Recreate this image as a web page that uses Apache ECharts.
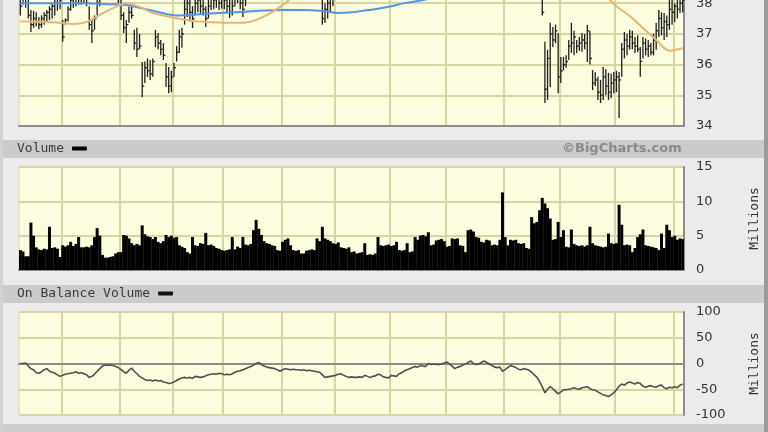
<!DOCTYPE html>
<html>
<head>
<meta charset="utf-8">
<script src="https://cdn.jsdelivr.net/npm/echarts@6/dist/echarts.min.js"></script>
<style>
html,body{margin:0;padding:0;background:#ebebeb;}
#c{width:768px;height:432px;}
</style>
</head>
<body>
<div id="c"></div>
<script>
// ---- data ----
const monthNames = ['M0','M1','M2','M3','M4','M5','M6','M7','M8','M9','M10','M11','M12'];
const monthDays = [16,22,20,19,22,20,21,21,22,21,21,22,4];

const high = [
38.5,38.6,38.5,38.2,37.78,37.75,37.7,37.55,37.6,37.7,
37.78,37.9,38.0,38.2,38.3,38.4,37.45,37.5,37.9,38.3,
38.4,38.5,38.6,38.5,38.7,38.6,37.9,37.45,37.6,38.2,
38.5,38.8,38.9,38.9,38.7,38.8,38.7,38.5,38.1,37.7,
37.45,37.88,38.0,37.13,37.2,37.0,36.08,36.1,36.2,36.15,
36.2,37.13,37.03,36.8,36.7,36.05,35.92,35.8,36.05,36.6,
37.13,37.2,38.1,38.3,38.1,37.9,38.3,38.4,38.3,38.2,
37.9,38.1,38.4,38.5,38.5,38.4,38.45,38.5,38.3,38.2,
38.1,38.5,38.6,38.4,38.2,38.4,38.7,38.9,39.1,39.3,
39.4,39.3,39.2,39.1,39.0,38.9,38.9,38.8,38.7,38.9,
39.0,39.1,39.0,38.9,38.9,38.8,38.8,38.9,38.8,38.8,
38.7,38.7,38.6,38.5,38.2,38.0,38.3,38.4,38.5,38.7,
38.8,38.9,38.8,38.7,38.7,38.8,38.9,38.9,38.8,38.9,
39.0,39.0,38.9,39.0,39.1,39.2,39.1,39.0,38.9,38.9,
39.1,39.2,39.1,39.3,39.4,39.6,39.7,39.8,39.9,40.1,
40.0,40.2,40.1,40.0,40.3,40.2,40.3,40.2,40.2,40.3,
40.4,40.5,40.3,40.0,39.8,40.0,40.1,40.3,40.4,40.6,
40.7,40.5,40.2,40.3,40.5,40.7,40.5,40.2,39.9,39.7,
39.6,39.7,39.4,39.3,39.6,39.8,39.7,39.5,39.3,39.1,
39.3,39.2,39.0,38.9,38.8,38.7,38.8,38.8,36.74,36.48,
37.36,37.22,37.3,37.03,36.25,36.25,36.3,36.8,37.36,37.1,
36.8,36.9,37.03,37.0,37.29,37.1,35.82,35.75,35.6,35.5,
35.92,35.85,35.73,35.7,35.76,35.8,35.76,36.7,37.06,37.0,
37.13,37.1,36.9,36.95,36.57,36.9,36.85,36.8,36.7,37.0,
37.36,37.78,37.7,37.68,37.6,38.1,38.2,38.0,38.1,38.2,
38.3];

const low = [
37.6,37.95,37.85,37.5,37.06,37.2,37.25,37.15,37.2,37.3,
37.35,37.45,37.5,37.6,37.75,37.8,36.74,37.3,37.4,37.75,
37.85,37.9,37.95,37.95,38.0,37.9,37.13,36.7,37.13,37.6,
37.9,38.1,38.3,38.2,38.1,38.2,38.1,38.0,37.45,37.03,
36.7,37.36,37.5,36.48,36.25,36.5,34.94,35.4,35.6,35.5,
35.6,36.57,36.5,36.3,36.15,35.27,35.07,35.1,35.6,36.1,
36.38,36.55,37.3,37.55,37.4,37.19,37.62,37.7,37.65,37.6,
37.22,37.5,37.78,37.8,37.85,37.78,37.82,37.8,37.7,37.52,
37.6,37.9,38.0,37.8,37.55,37.9,38.2,38.3,38.4,38.6,
38.8,38.7,38.6,38.5,38.4,38.4,38.3,38.3,38.2,38.3,
38.4,38.5,38.5,38.4,38.4,38.3,38.3,38.4,38.3,38.3,
38.25,38.2,38.2,38.15,37.3,37.36,37.5,37.7,37.9,38.25,
38.3,38.4,38.3,38.3,38.25,38.3,38.4,38.4,38.35,38.4,
38.5,38.5,38.4,38.5,38.6,38.7,38.6,38.5,38.4,38.4,
38.5,38.7,38.6,38.7,38.9,39.0,39.1,39.2,39.3,39.4,
39.3,39.5,39.5,39.4,39.6,39.6,39.7,39.6,39.6,39.7,
39.8,39.9,39.7,39.4,39.1,39.3,39.5,39.6,39.8,40.0,
40.1,39.8,39.6,39.7,39.9,40.1,39.9,39.6,39.3,39.1,
39.0,39.1,38.6,38.7,38.9,39.2,39.1,38.9,38.7,38.6,
38.7,38.7,38.5,38.3,38.3,38.25,38.3,37.6,34.75,34.85,
35.27,36.57,36.7,35.07,35.4,35.82,35.9,36.15,36.38,36.3,
36.38,36.45,36.42,36.5,36.08,36.0,35.17,35.3,34.85,34.75,
34.85,35.0,34.85,34.9,35.07,35.1,34.26,35.6,36.2,36.3,
36.48,36.5,36.38,36.4,35.6,36.2,36.3,36.25,36.3,36.3,
36.48,36.9,36.95,36.8,36.9,37.13,37.3,37.39,37.5,37.68,
37.7];

const close = [
37.9,38.3,38.0,37.6,37.3,37.5,37.4,37.3,37.5,37.6,
37.7,37.8,37.9,38.0,38.2,38.1,36.9,37.45,37.8,38.1,
38.2,38.3,38.4,38.2,38.5,38.0,37.3,37.1,37.5,38.0,
38.3,38.6,38.7,38.4,38.5,38.6,38.3,38.2,37.6,37.2,
37.3,37.7,37.6,36.7,36.5,36.6,35.3,35.9,35.8,35.7,
36.1,36.9,36.7,36.5,36.3,35.6,35.3,35.6,35.9,36.4,
36.9,37.0,37.8,38.0,37.7,37.5,38.0,38.1,37.9,37.8,
37.5,37.9,38.2,38.1,38.3,38.0,38.2,38.1,37.9,37.7,
37.9,38.2,38.4,38.0,37.8,38.2,38.5,38.7,38.9,39.1,
39.2,39.0,38.9,38.8,38.7,38.6,38.5,38.5,38.4,38.7,
38.8,38.9,38.7,38.6,38.7,38.6,38.5,38.7,38.5,38.6,
38.5,38.4,38.4,38.3,37.5,37.8,38.0,38.2,38.3,38.5,
38.6,38.7,38.5,38.5,38.4,38.6,38.7,38.6,38.6,38.7,
38.8,38.7,38.6,38.8,38.9,39.0,38.8,38.7,38.6,38.6,
38.9,39.0,38.8,39.1,39.2,39.4,39.5,39.6,39.7,39.9,
39.6,40.0,39.8,39.6,40.1,39.9,40.0,39.9,39.9,40.0,
40.2,40.3,39.9,39.6,39.3,39.7,39.8,40.1,40.2,40.4,
40.5,40.0,39.8,40.0,40.3,40.5,40.1,39.8,39.5,39.3,
39.2,39.4,38.8,39.0,39.3,39.6,39.4,39.2,38.9,38.8,
39.0,38.9,38.7,38.5,38.4,38.4,38.5,37.7,35.2,36.2,
37.0,36.8,37.1,35.6,35.8,36.0,36.1,36.6,36.7,36.9,
36.6,36.7,36.8,36.7,37.1,36.2,35.4,35.5,35.1,35.0,
35.6,35.3,35.1,35.4,35.5,35.6,35.5,36.5,36.8,36.6,
36.9,36.7,36.6,36.5,36.1,36.7,36.5,36.6,36.4,36.8,
37.1,37.5,37.2,37.4,37.3,37.8,37.7,37.9,37.8,38.0,
38.1];

const volume = [
2.9,2.7,2.0,2.0,6.9,5.0,3.3,3.0,2.9,3.1,
3.0,6.3,3.2,3.3,3.1,1.9,3.6,3.4,3.6,4.1,
3.5,3.8,4.8,3.3,3.3,3.4,3.3,3.6,4.8,6.1,
5.0,2.2,1.8,1.8,1.9,2.0,2.4,2.6,2.6,5.1,
5.0,4.6,3.9,3.6,3.8,3.6,6.5,5.2,4.9,4.8,
4.5,4.8,4.1,3.9,4.2,5.1,4.8,5.0,4.7,4.8,
3.6,3.4,3.2,2.6,2.4,4.8,3.6,3.5,3.9,3.8,
5.4,3.6,3.7,3.5,3.2,3.1,2.9,2.8,2.9,3.0,
4.8,3.0,3.4,3.2,4.8,3.7,3.6,3.8,5.8,7.3,
6.0,5.1,4.2,3.9,3.8,3.6,3.5,2.9,2.8,4.1,
4.4,4.6,3.6,2.9,2.8,2.9,2.4,2.4,2.8,2.9,
3.0,2.9,4.6,4.2,6.3,4.6,4.4,4.2,3.9,3.8,
4.0,3.3,3.2,3.1,3.3,2.6,2.7,2.4,2.5,2.6,
3.9,2.2,2.3,2.2,2.4,4.8,3.6,3.5,3.6,3.7,
3.5,3.6,4.1,2.9,2.8,2.9,3.9,2.6,2.7,4.8,
4.4,5.0,5.1,4.9,5.5,3.6,3.7,4.3,4.4,4.5,
4.2,3.4,3.5,4.6,4.5,4.6,3.6,3.5,2.6,5.8,
5.9,5.6,4.8,4.7,4.1,4.0,4.4,4.3,3.6,3.7,
3.6,4.4,11.3,4.8,3.6,4.4,4.3,4.4,3.9,3.8,
3.9,3.2,3.1,7.7,6.8,7.0,8.7,10.5,9.7,9.0,
7.5,4.4,4.5,7.0,4.8,5.8,3.4,3.3,5.9,3.8,
3.6,3.5,3.6,3.4,3.6,6.3,3.9,3.6,3.5,3.4,
3.3,3.4,5.3,3.9,3.8,3.9,9.5,6.6,3.6,3.7,
3.6,2.6,3.2,4.8,5.2,5.9,3.6,3.5,3.4,3.3,
3.2,2.9,5.3,3.2,6.6,5.8,4.8,5.0,4.4,4.6,
4.5];

const obv = [
0,0,1,-5,-10,-12,-18,-19,-16,-12,
-10,-15,-17,-19,-22,-25,-23,-21,-20,-19,
-18,-16,-19,-18,-20,-22,-27,-25,-21,-15,
-10,-5,-3,-4,-3,-4,-6,-8,-12,-16,
-19,-13,-9,-15,-20,-25,-28,-31,-33,-32,
-34,-32,-34,-33,-36,-37,-39,-38,-36,-33,
-30,-28,-27,-28,-27,-29,-25,-26,-27,-26,
-24,-22,-21,-20,-21,-19,-20,-22,-21,-22,
-20,-17,-15,-14,-12,-10,-8,-6,-3,0,
2,-2,-5,-7,-8,-9,-10,-12,-15,-12,
-10,-11,-12,-11,-12,-12,-13,-12,-14,-13,
-14,-15,-16,-17,-22,-27,-26,-25,-24,-23,
-21,-20,-23,-25,-27,-26,-27,-27,-26,-27,
-23,-25,-27,-25,-24,-21,-22,-26,-27,-28,
-23,-24,-25,-20,-18,-14,-12,-10,-8,-6,
-7,-4,-5,-6,0,-2,-1,-2,-2,-1,
1,3,-1,-5,-10,-7,-6,-3,-1,2,
5,0,-2,-1,2,5,2,-1,-4,-7,
-8,-7,-15,-12,-8,-4,-6,-8,-11,-12,
-10,-11,-13,-17,-22,-27,-35,-45,-57,-50,
-45,-49,-54,-59,-55,-51,-51,-50,-49,-47,
-49,-50,-47,-46,-45,-49,-51,-52,-55,-58,
-61,-62,-64,-61,-57,-51,-44,-40,-42,-38,
-36,-38,-40,-37,-39,-44,-46,-44,-43,-45,
-46,-43,-42,-47,-49,-46,-47,-45,-47,-42,
-40];

const maDays = [0,5,10,15,20,25,30,35,40,45,50,55,60,65,70,75,80,85,90,95,100,105,110,115,120,125,130,135,140,145,150,155,160,165,170,175,180,185,190,195,200,205,210,215,220,225,230,235,240,245,250];
const maBlue = [38.0,38.0,38.0,38.0,38.0,37.99,37.98,37.96,37.94,37.85,37.75,37.65,37.6,37.62,37.66,37.68,37.7,37.72,37.75,37.77,37.78,37.78,37.77,37.74,37.68,37.7,37.76,37.82,37.9,38.0,38.07,38.16,38.3,38.45,38.6,38.75,38.9,39.0,39.1,39.15,39.15,39.1,39.0,38.9,38.8,38.7,38.6,38.5,38.45,38.4,38.35];
const maOrange = [37.4,37.4,37.39,37.36,37.32,37.39,37.62,37.84,38.0,37.88,37.68,37.58,37.49,37.42,37.39,37.37,37.36,37.37,37.49,37.71,38.0,38.4,38.6,38.65,38.6,38.6,38.65,38.8,38.85,39.0,39.3,39.6,39.85,39.9,40.0,40.1,40.0,39.7,39.4,39.1,38.9,38.7,38.5,38.4,38.3,37.9,37.58,37.19,36.8,36.45,36.54];

const priceTicks = {min:34, max:41, step:1};
const volTicks = {min:0, max:15, step:5};
const obvTicks = {min:-100, max:100, step:50};

// ---- build ----
const days = [];
const monthStarts = new Set();
let cum = 0;
monthDays.forEach((n, m) => {
  if (m > 0) monthStarts.add(cum);
  for (let d = 0; d < n; d++) days.push(monthNames[m] + '-' + (d + 1));
  cum += n;
});

const gridColor = '#d9d5a2';
const plotBg = '#fcfcdf';
const axisGray = '#8c8c8c';
const labelFont = {fontFamily: 'DejaVu Sans', fontSize: 13, color: '#333'};

function xAxisFor(g) {
  return {
    type: 'category', gridIndex: g, data: days, boundaryGap: true,
    axisLabel: {show: false}, axisTick: {show: false},
    axisLine: {show: true, lineStyle: {color: axisGray, width: 2}},
    splitLine: {show: true, interval: (i) => monthStarts.has(i), lineStyle: {color: gridColor, width: 2}}
  };
}
function yAxisFor(g, t, name) {
  const a = {
    type: 'value', gridIndex: g, position: 'right', min: t.min, max: t.max, interval: t.step,
    axisLabel: Object.assign({margin: 12}, labelFont),
    axisTick: {show: false},
    axisLine: {show: true, lineStyle: {color: axisGray, width: 2}},
    splitLine: {show: true, lineStyle: {color: gridColor, width: 2}}
  };
  if (name) {
    a.name = name; a.nameLocation = 'middle'; a.nameRotate = 90; a.nameGap = 64;
    a.nameTextStyle = {fontFamily: 'DejaVu Sans Mono', fontSize: 13, color: '#333'};
  }
  return a;
}

const ohlc = days.map((d, i) => [i, high[i], low[i], close[i]]);

const gridBase = {left: 19, right: 84, show: true, backgroundColor: plotBg, borderColor: gridColor, borderWidth: 1, containLabel: false, outerBoundsMode: 'none'};

const chart = echarts.init(document.getElementById('c'), null, {renderer: 'canvas'});
chart.setOption({
  animation: false,
  backgroundColor: '#ebebeb',
  grid: [
    Object.assign({top: -89, height: 215}, gridBase),
    Object.assign({top: 167, height: 103}, gridBase),
    Object.assign({top: 312, height: 103}, gridBase)
  ],
  xAxis: [xAxisFor(0), xAxisFor(1), xAxisFor(2)],
  yAxis: [yAxisFor(0, priceTicks), yAxisFor(1, volTicks, 'Millions'), yAxisFor(2, obvTicks, 'Millions')],
  legend: [
    {data: ['Volume'], left: 17, top: 142, padding: 0, align: 'right', icon: 'roundRect', itemWidth: 15, itemHeight: 4,
     selectedMode: false, textStyle: {fontFamily: 'DejaVu Sans Mono', fontSize: 13, color: '#3a3a3a', padding: [0, 3, 0, 0]}},
    {data: [{name: 'On Balance Volume', itemStyle: {color: '#111'}}], left: 17, top: 287, padding: 0, align: 'right', icon: 'roundRect', itemWidth: 15, itemHeight: 4,
     selectedMode: false, textStyle: {fontFamily: 'DejaVu Sans Mono', fontSize: 13, color: '#3a3a3a', padding: [0, 3, 0, 0]}}
  ],
  graphic: [
    {type: 'rect', shape: {x: 0, y: 0, width: 3, height: 432}, style: {fill: '#d2d2d2'}, silent: true},
    {type: 'rect', shape: {x: 764, y: 0, width: 4, height: 432}, style: {fill: '#9a9a9a'}, silent: true},
    {type: 'rect', shape: {x: 3, y: 140, width: 761, height: 18}, style: {fill: '#cbcbcb'}, silent: true, z: -1},
    {type: 'rect', shape: {x: 3, y: 285, width: 761, height: 18}, style: {fill: '#cbcbcb'}, silent: true, z: -1},
    {type: 'rect', shape: {x: 3, y: 424, width: 761, height: 8}, style: {fill: '#cdcdcd'}, silent: true},
    {type: 'text', left: 562, top: 142, style: {text: '\u00A9BigCharts.com', fill: '#8a8a8a', font: 'bold 13px "DejaVu Sans"'}, silent: true}
  ],
  series: [
    {
      type: 'custom', name: 'Price', xAxisIndex: 0, yAxisIndex: 0, data: ohlc,
      encode: {x: 0, y: [1, 2, 3]},
      renderItem: function (params, api) {
        const h = api.coord([api.value(0), api.value(1)]);
        const l = api.coord([api.value(0), api.value(2)]);
        const c = api.coord([api.value(0), api.value(3)]);
        const st = {stroke: '#1e1e1e', lineWidth: 1.3};
        return {type: 'group', children: [
          {type: 'line', shape: {x1: h[0], y1: h[1], x2: l[0], y2: l[1]}, style: st},
          {type: 'line', shape: {x1: c[0], y1: c[1], x2: c[0] + 2, y2: c[1]}, style: st}
        ]};
      },
      z: 3
    },
    {type: 'line', name: 'MA1', xAxisIndex: 0, yAxisIndex: 0, data: maDays.map((d, i) => [d, maBlue[i]]),
     smooth: 0.3, showSymbol: false, lineStyle: {color: '#4e96ea', width: 2}, z: 4},
    {type: 'line', name: 'MA2', xAxisIndex: 0, yAxisIndex: 0, data: maDays.map((d, i) => [d, maOrange[i]]),
     smooth: 0.3, showSymbol: false, lineStyle: {color: '#e6b573', width: 2}, z: 4},
    {type: 'bar', name: 'Volume', xAxisIndex: 1, yAxisIndex: 1, data: volume, barWidth: 3,
     itemStyle: {color: '#000'}},
    {type: 'line', name: 'On Balance Volume', xAxisIndex: 2, yAxisIndex: 2, data: obv,
     showSymbol: false, lineStyle: {color: '#505050', width: 1.6}, itemStyle: {color: '#505050'}}
  ]
});
</script>
</body>
</html>
